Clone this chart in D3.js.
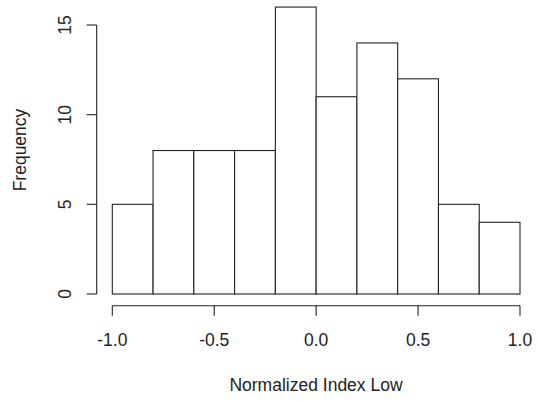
<html>
<head>
  <meta charset="utf-8">
  <script src="https://d3js.org/d3.v7.min.js"></script>
  <style>
    body { margin: 0; background: white; }
    text { font-family: "Liberation Sans", Arial, sans-serif; fill: #222; }
  </style>
</head>
<body>
  <svg id="hist" width="538" height="402"></svg>
  <script>
    // histogram bins (left edges) and counts
    const binStarts = [-1.0, -0.8, -0.6, -0.4, -0.2, 0.0, 0.2, 0.4, 0.6, 0.8];
    const binWidth = 0.2;
    const counts = [5, 8, 8, 8, 16, 11, 14, 12, 5, 4];
    const xTicks = [-1.0, -0.5, 0.0, 0.5, 1.0];
    const yTicks = [0, 5, 10, 15];

    const svg = d3.select("svg#hist");
    const fontSize = 17.5;

    const x = d3.scaleLinear().domain([-1, 1]).range([112.3, 520]);
    const y = d3.scaleLinear().domain([0, 15]).range([294, 25]);

    // R prints a plain hyphen for negatives
    const fmt = t => t.toFixed(1);

    // bars
    binStarts.forEach((b, i) => {
      svg.append("rect")
        .attr("x", x(b))
        .attr("y", y(counts[i]))
        .attr("width", x(b + binWidth) - x(b))
        .attr("height", y(0) - y(counts[i]))
        .attr("fill", "white")
        .attr("stroke", "#222")
        .attr("stroke-width", 1.1);
    });

    // x axis (R style, detached below)
    const xAxisY = 305.7;
    svg.append("line")
      .attr("x1", x(xTicks[0])).attr("x2", x(xTicks[xTicks.length - 1]))
      .attr("y1", xAxisY).attr("y2", xAxisY)
      .attr("stroke", "#222").attr("stroke-width", 1.1);
    xTicks.forEach(t => {
      svg.append("line")
        .attr("x1", x(t)).attr("x2", x(t))
        .attr("y1", xAxisY).attr("y2", xAxisY + 10)
        .attr("stroke", "#222").attr("stroke-width", 1.1);
      svg.append("text")
        .attr("x", x(t)).attr("y", 346)
        .attr("text-anchor", "middle")
        .style("font-size", fontSize + "px")
        .text(fmt(t));
    });

    // y axis
    const yAxisX = 96.7;
    svg.append("line")
      .attr("x1", yAxisX).attr("x2", yAxisX)
      .attr("y1", y(yTicks[0])).attr("y2", y(yTicks[yTicks.length - 1]))
      .attr("stroke", "#222").attr("stroke-width", 1.1);
    yTicks.forEach(t => {
      svg.append("line")
        .attr("x1", yAxisX - 10).attr("x2", yAxisX)
        .attr("y1", y(t)).attr("y2", y(t))
        .attr("stroke", "#222").attr("stroke-width", 1.1);
      svg.append("text")
        .attr("transform", `translate(71,${y(t)}) rotate(-90)`)
        .attr("text-anchor", "middle")
        .style("font-size", fontSize + "px")
        .text(t);
    });

    // axis titles
    svg.append("text")
      .attr("x", 316).attr("y", 391)
      .attr("text-anchor", "middle")
      .style("font-size", fontSize + "px")
      .text("Normalized Index Low");

    svg.append("text")
      .attr("transform", "translate(26,150) rotate(-90)")
      .attr("text-anchor", "middle")
      .style("font-size", fontSize + "px")
      .text("Frequency");
  </script>
</body>
</html>
